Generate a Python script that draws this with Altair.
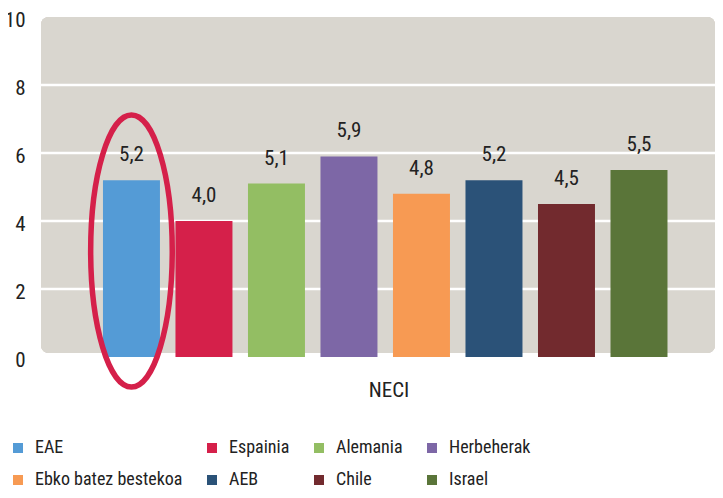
import altair as alt
import pandas as pd

countries = ["EAE", "Espainia", "Alemania", "Herbeherak",
             "Ebko batez bestekoa", "AEB", "Chile", "Israel"]
values = [5.2, 4.0, 5.1, 5.9, 4.8, 5.2, 4.5, 5.5]
labels = ["5,2", "4,0", "5,1", "5,9", "4,8", "5,2", "4,5", "5,5"]
colors = ["#549BD6", "#D5204A", "#93BE63", "#7D67A6",
          "#F79A53", "#2B5278", "#722A2E", "#5A7539"]
group_label = "NECI"
y_ticks = [0, 2, 4, 6, 8, 10]
grid_values = [2, 4, 6, 8]
highlight = "EAE"

FONT = "Roboto Condensed, DejaVu Sans Condensed, sans-serif"
W, H = 674, 340

df = pd.DataFrame({"country": countries, "value": values, "label": labels})
grid_df = pd.DataFrame({"g": grid_values})
hl_df = pd.DataFrame({"country": [highlight],
                      "center": [values[countries.index(highlight)] * 0.6]})

xscale = alt.Scale(domain=countries, paddingInner=0.214, paddingOuter=0.755,
                   align=0.566)
yscale = alt.Scale(domain=[0, 10], nice=False)
color = alt.Color("country:N", scale=alt.Scale(domain=countries, range=colors),
                  legend=alt.Legend(orient="none", legendX=-32, legendY=422,
                                    direction="horizontal",
                                    columns=4, columnPadding=20, rowPadding=14,
                                    symbolType="square", symbolSize=100,
                                    symbolStrokeWidth=0, labelFontSize=18,
                                    labelFont=FONT, labelColor="#222",
                                    labelOffset=8, title=None, padding=0,
                                    labelLimit=300))

bg = alt.Chart(df).mark_rect(color="#D9D6CF", cornerRadius=8).encode(
    x=alt.value(0), x2=alt.value(W),
    y=alt.datum(10, scale=yscale), y2=alt.value(H - 4))

grid = alt.Chart(grid_df).mark_rule(color="white", strokeWidth=2.5).encode(
    y=alt.Y("g:Q", scale=yscale), x=alt.value(0), x2=alt.value(W))

bars = alt.Chart(df).mark_bar().encode(
    x=alt.X("country:N", scale=xscale, sort=countries,
            axis=alt.Axis(labels=False, ticks=False, domain=False, grid=False,
                          title=group_label, titleFont=FONT, titleFontSize=21,
                          titleFontWeight="normal", titleColor="#222",
                          titleBaseline="alphabetic", titleAlign="center",
                          titlePadding=39, titleX=347.5)),
    y=alt.Y("value:Q", scale=yscale,
            axis=alt.Axis(values=y_ticks, grid=False, domain=False, ticks=False,
                          labelFont=FONT, labelFontSize=21, labelColor="#222",
                          labelPadding=16, title=None, labelOffset=3)),
    color=color)

text = alt.Chart(df).mark_text(font=FONT, fontSize=21, color="#222",
                               baseline="alphabetic", dy=-19).encode(
    x=alt.X("country:N", scale=xscale, sort=countries),
    y=alt.Y("value:Q", scale=yscale),
    text="label:N")

ellipse = alt.Chart(hl_df).mark_point(
    shape="M0,-1 A0.3,1 0 1,1 0,1 A0.3,1 0 1,1 0,-1 Z",
    filled=False, stroke="#D5204A", strokeWidth=5.5, opacity=1,
    size=272 * 272).encode(
    x=alt.X("country:N", scale=xscale, sort=countries),
    y=alt.Y("center:Q", scale=yscale))

chart = alt.layer(bg, grid, bars, text, ellipse).properties(
    width=W, height=H,
    autosize=alt.AutoSizeParams(type="none"),
    padding={"left": 33, "top": 9, "right": 0, "bottom": 133},
).configure_view(stroke=None)

chart.save("out.html", embed_options={"renderer": "svg", "actions": False})
